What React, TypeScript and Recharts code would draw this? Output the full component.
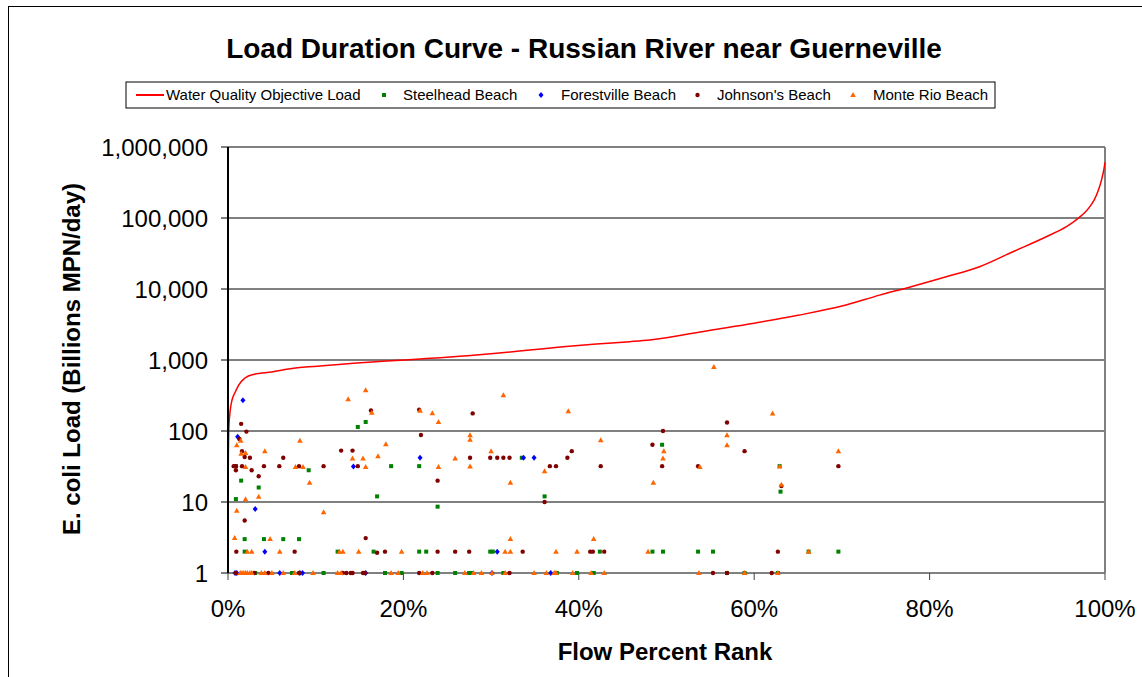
import React from 'react';
import {
  ComposedChart,
  Line,
  Scatter,
  XAxis,
  YAxis,
  ReferenceLine,
} from 'recharts';

// flow percent rank (%) and load (billions MPN/day)
const objectiveRank = [
  0, 0.03, 0.1, 0.26, 0.46, 0.83, 1.22, 1.94, 3.0, 5.0, 6.9, 8.8, 10.5, 11.9, 14.3, 18.1, 21.9, 24.2,
  26.8, 30.6, 34.4, 38.2, 42.0, 45.8, 48.1, 55, 60, 65, 70, 74.3, 77.8, 81.9, 85.7, 89.5, 93.3,
  95.6, 96.3, 97.0, 97.7, 98.3, 98.8, 99.2, 99.6, 99.9, 100,
];
const objectiveLoad = [
  5.6, 30, 114, 198, 273, 354, 444, 557, 630, 678, 745, 797, 823, 850, 898, 968, 1033, 1077,
  1138, 1242, 1382, 1539, 1680, 1811, 1913, 2630, 3300, 4260, 5750, 8200, 10700, 14900, 20600,
  33500, 54500, 75700, 86100, 100200, 119700, 145900, 183200, 237800, 342000, 504600, 609000,
];

const steelheadBeach = [
  [0.9, 32], [9.2, 28], [1.5, 20], [3.5, 16], [0.9, 11], [1.9, 3], [4.1, 3], [6.3, 3], [8.1, 3],
  [1.9, 2], [3.1, 1], [7.3, 1], [10.9, 1], [15.7, 134], [14.8, 114], [17.0, 12], [18.6, 32],
  [21.8, 32], [23.9, 8.6], [12.5, 2], [16.6, 2], [21.8, 2], [22.6, 2], [17.9, 1], [19.8, 1],
  [23.9, 1], [33.5, 42], [36.1, 12], [29.9, 2], [30.2, 2], [25.9, 1], [27.5, 1], [27.8, 1],
  [31.4, 1], [42.4, 2], [48.4, 2], [37.5, 1], [39.8, 1], [41.7, 1], [49.5, 64], [49.6, 2],
  [53.6, 2], [55.3, 2], [56.9, 1], [58.9, 1], [62.9, 32], [63.0, 14], [66.2, 2], [69.6, 2],
  [62.7, 1],
];

const forestvilleBeach = [
  [1.7, 270], [1.1, 83], [3.1, 8], [4.2, 2], [14.3, 31.5], [21.9, 42], [33.7, 42], [34.9, 42],
  [30.7, 2], [0.8, 1], [1.0, 1], [5.9, 1], [8.2, 1], [8.5, 1], [15.7, 1], [30.1, 1], [36.8, 1],
];

const johnsonsBeach = [
  [1.5, 126], [2.1, 98], [1.3, 77], [1.6, 52], [1.9, 43], [2.5, 42], [6.3, 42], [0.65, 32],
  [0.9, 32], [1.6, 32], [4.1, 32], [5.85, 32], [8.1, 32], [10.9, 32], [0.9, 28], [2.7, 28],
  [3.5, 23], [1.9, 5.5], [0.95, 2], [7.6, 2], [0.9, 1], [3.0, 1], [4.6, 1], [8.1, 1],
  [16.3, 195], [21.8, 200], [22.0, 88], [12.9, 53], [14.2, 53], [14.8, 32], [23.9, 20],
  [15.7, 3.1], [17.0, 1.93], [17.9, 2], [23.9, 2], [13.1, 1], [13.5, 1], [14.0, 1], [14.2, 1],
  [15.4, 1], [15.6, 1], [21.8, 1], [23.3, 1],
  [27.9, 177], [27.6, 42], [29.9, 42], [30.7, 42], [31.4, 42], [32.1, 42], [36.7, 32], [36.1, 10],
  [25.9, 2], [27.5, 2], [33.6, 2], [32.1, 1],
  [48.4, 64], [39.2, 52], [38.7, 42], [37.4, 32], [42.5, 32], [41.3, 2], [41.6, 2], [42.9, 2],
  [56.9, 132], [49.6, 100], [58.9, 52], [49.5, 32], [53.6, 32], [55.3, 1], [56.9, 1],
  [69.6, 32], [63.1, 16.8], [62.7, 2], [62.0, 1],
];

const monteRioBeach = [
  [1.45, 73], [1.0, 63], [8.2, 73], [4.2, 52], [1.5, 48], [2.0, 49], [2.0, 31], [7.7, 31],
  [8.55, 31], [9.3, 18.7], [3.5, 11.9], [2.0, 10.9], [1.0, 7.5], [10.9, 7.2], [0.76, 3.1],
  [4.8, 3], [2.2, 2], [2.7, 2], [5.9, 2],
  [1.4, 1], [1.6, 1], [1.8, 1], [2.0, 1], [2.2, 1], [2.5, 1], [2.7, 1], [3.8, 1], [4.2, 1],
  [5.0, 1], [6.3, 1], [7.6, 1], [9.7, 1],
  [15.7, 374], [13.7, 280], [16.4, 181], [21.9, 193], [23.3, 178], [24.0, 134], [18.0, 65],
  [14.2, 41], [15.4, 41], [17.1, 44], [15.7, 31], [24.0, 31], [12.7, 2], [13.1, 2], [14.9, 2],
  [19.8, 2], [12.5, 1], [12.9, 1], [18.6, 1], [19.4, 1], [22.2, 1], [22.7, 1],
  [31.4, 318], [27.6, 87], [27.6, 75], [30.0, 52], [25.9, 41], [27.6, 31.5], [36.1, 27],
  [32.2, 18.7], [31.6, 2], [32.2, 2], [32.2, 3],
  [27.0, 1], [28.0, 1], [28.9, 1], [30.1, 1], [31.6, 1], [34.9, 1], [36.3, 1],
  [38.8, 190], [42.5, 74], [48.5, 18.7], [41.7, 3], [37.4, 2], [39.8, 2], [47.9, 2],
  [37.2, 1], [37.4, 1], [39.3, 1], [41.4, 1], [42.9, 1],
  [55.4, 800], [56.9, 87], [56.9, 63], [49.7, 52], [49.6, 41], [53.8, 31], [53.7, 1], [58.9, 1],
  [62.1, 176], [69.6, 52], [62.9, 31.5], [63.1, 17.5], [66.2, 2], [62.7, 1],
];

const xTicks = [0, 20, 40, 60, 80, 100];
const yTicks = [1, 10, 100, 1000, 10000, 100000, 1000000];
const gridLevels = [10, 100, 1000, 10000, 100000];

const FONT = 'Arial, "Liberation Sans", sans-serif';

const toPoints = (rows: number[][]) => rows.map(([x, y]) => ({ x, y }));
const curveData = objectiveRank.map((x, i) => ({ x, y: objectiveLoad[i] }));

const SquareDot = (p: any) =>
  p.cx == null ? <g /> : <rect x={p.cx - 2} y={p.cy - 2} width={4} height={4} fill="#008000" />;
const DiamondDot = (p: any) =>
  p.cx == null ? (
    <g />
  ) : (
    <polygon
      points={`${p.cx},${p.cy - 3} ${p.cx + 2.5},${p.cy} ${p.cx},${p.cy + 3} ${p.cx - 2.5},${p.cy}`}
      fill="#0000FF"
    />
  );
const CircleDot = (p: any) =>
  p.cx == null ? <g /> : <circle cx={p.cx} cy={p.cy} r={2.2} fill="#800000" />;
const TriangleDot = (p: any) =>
  p.cx == null ? (
    <g />
  ) : (
    <polygon
      points={`${p.cx},${p.cy - 3} ${p.cx + 2.8},${p.cy + 2} ${p.cx - 2.8},${p.cy + 2}`}
      fill="#FF6600"
    />
  );

export default function App() {
  return (
    <div
      style={{
        position: 'absolute',
        left: 0,
        top: 0,
        width: 1142,
        height: 677,
        overflow: 'hidden',
        background: '#fff',
        fontFamily: FONT,
      }}
    >
      <div
        style={{
          position: 'absolute',
          left: 8,
          top: 6,
          width: 1200,
          height: 720,
          border: '1px solid #000',
        }}
      />
      <div style={{ position: 'absolute', left: 0, top: 0 }}>
        <ComposedChart
          width={1142}
          height={677}
          margin={{ top: 147, right: 37, bottom: 44, left: 108 }}
        >
          <XAxis
            type="number"
            dataKey="x"
            domain={[0, 100]}
            ticks={xTicks}
            height={60}
            tickFormatter={(v) => `${v}%`}
            tick={{ fill: '#000', fontSize: 24, fontFamily: FONT }}
            tickSize={7}
            tickMargin={20}
            axisLine={{ stroke: '#808080', strokeWidth: 2 }}
            tickLine={{ stroke: '#404040' }}
          />
          <YAxis
            type="number"
            dataKey="y"
            scale="log"
            domain={[1, 1000000]}
            ticks={yTicks}
            width={120}
            tickFormatter={(v) => Number(v).toLocaleString('en-US')}
            tick={{ fill: '#000', fontSize: 24, fontFamily: FONT }}
            tickSize={7}
            tickMargin={13}
            axisLine={{ stroke: '#000', strokeWidth: 2 }}
            tickLine={{ stroke: '#000' }}
          />
          {gridLevels.map((v) => (
            <ReferenceLine key={v} y={v} stroke="#000" strokeWidth={1} />
          ))}
          <ReferenceLine y={1000000} stroke="#808080" strokeWidth={2} />
          <ReferenceLine x={100} stroke="#808080" strokeWidth={2} />
          <Line
            data={curveData}
            dataKey="y"
            type="monotone"
            stroke="#FF0000"
            strokeWidth={1.5}
            dot={false}
            activeDot={false}
            isAnimationActive={false}
          />
          <Scatter data={toPoints(steelheadBeach)} shape={SquareDot} isAnimationActive={false} />
          <Scatter data={toPoints(forestvilleBeach)} shape={DiamondDot} isAnimationActive={false} />
          <Scatter data={toPoints(johnsonsBeach)} shape={CircleDot} isAnimationActive={false} />
          <Scatter data={toPoints(monteRioBeach)} shape={TriangleDot} isAnimationActive={false} />
        </ComposedChart>
      </div>
      <svg
        width={1142}
        height={677}
        style={{ position: 'absolute', left: 0, top: 0, pointerEvents: 'none' }}
        fontFamily={FONT}
      >
        <text x={584} y={58} textAnchor="middle" fontSize={28} fontWeight="bold" fill="#000">
          Load Duration Curve - Russian River near Guerneville
        </text>
        <rect x={126} y={82} width={869} height={26} fill="#fff" stroke="#000" strokeWidth={1} />
        <line x1={136} y1={95} x2={164} y2={95} stroke="#FF0000" strokeWidth={2} />
        <text x={166} y={100} fontSize={15} fill="#000">Water Quality Objective Load</text>
        <rect x={382} y={93} width={4} height={4} fill="#008000" />
        <text x={403} y={100} fontSize={15} fill="#000">Steelhead Beach</text>
        <polygon points="541,92 543.5,95 541,98 538.5,95" fill="#0000FF" />
        <text x={561} y={100} fontSize={15} fill="#000">Forestville Beach</text>
        <circle cx={697.5} cy={95} r={2.2} fill="#800000" />
        <text x={717} y={100} fontSize={15} fill="#000">Johnson's Beach</text>
        <polygon points="853,92 855.8,97 850.2,97" fill="#FF6600" />
        <text x={873} y={100} fontSize={15} fill="#000">Monte Rio Beach</text>
        <text x={665} y={660} textAnchor="middle" fontSize={24} fontWeight="bold" fill="#000">
          Flow Percent Rank
        </text>
        <text
          x={0}
          y={0}
          transform="translate(80,359) rotate(-90)"
          textAnchor="middle"
          fontSize={24}
          fontWeight="bold"
          fill="#000"
        >
          E. coli Load (Billions MPN/day)
        </text>
      </svg>
    </div>
  );
}
